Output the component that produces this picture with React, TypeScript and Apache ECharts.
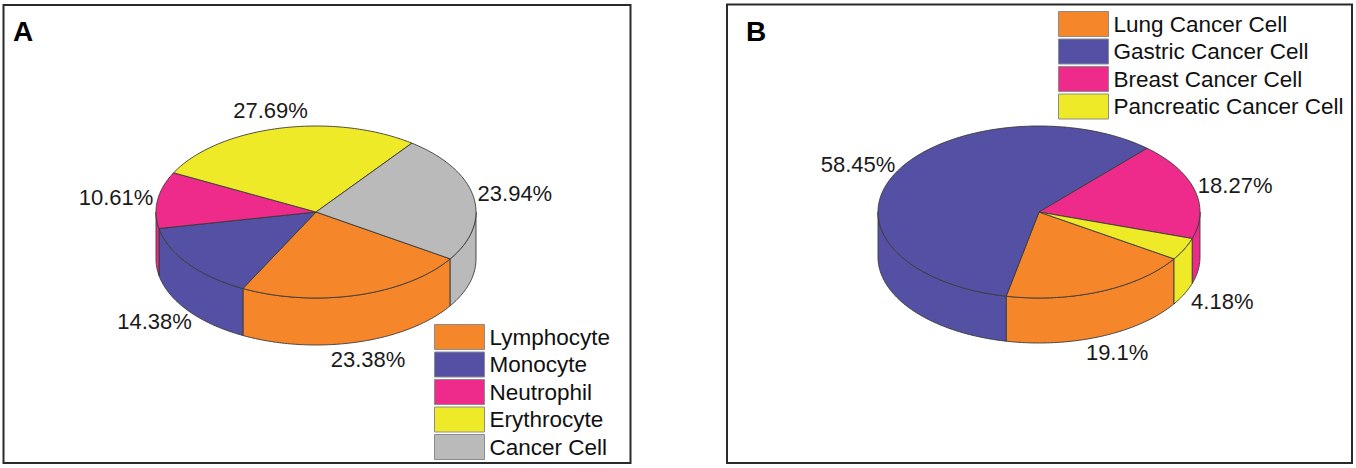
import React, { useEffect, useRef } from "react";
import * as echarts from "echarts";

// ---- data ----
const categoriesA = ["Lymphocyte", "Monocyte", "Neutrophil", "Erythrocyte", "Cancer Cell"];
const valuesA = [23.38, 14.38, 10.61, 27.69, 23.94];
const colorsA = ["#F6862A", "#5450A4", "#EE2A8B", "#EEEA28", "#B9BAB9"];

const categoriesB = ["Lung Cancer Cell", "Gastric Cancer Cell", "Breast Cancer Cell", "Pancreatic Cancer Cell"];
const valuesB = [19.1, 58.45, 18.27, 4.18];
const colorsB = ["#F6862A", "#5450A4", "#EE2A8B", "#EEEA28"];

const panelLetters = ["A", "B"];

// ---- geometry / style (not data) ----
const START_ANGLE = 33; // degrees, clockwise from 3 o'clock
const FONT = "Liberation Sans, Arial, Helvetica, sans-serif";
const EDGE = "#3a3a3a";

type Geo = { cx: number; cy: number; rx: number; ry: number; thick: number };
const geoA: Geo = { cx: 316, cy: 212, rx: 160, ry: 86, thick: 47 };
const geoB: Geo = { cx: 1039, cy: 212, rx: 161, ry: 86, thick: 45 };

function arcPts(g: Geo, a0: number, a1: number, dy: number) {
  const pts: number[][] = [];
  const n = Math.max(2, Math.ceil(Math.abs(a1 - a0)));
  for (let i = 0; i <= n; i++) {
    const a = ((a0 + ((a1 - a0) * i) / n) * Math.PI) / 180;
    pts.push([g.cx + g.rx * Math.cos(a), g.cy + g.ry * Math.sin(a) + dy]);
  }
  return pts;
}

function buildSeries(cats: string[], vals: number[], colors: string[], g: Geo) {
  const total = vals.reduce((s, v) => s + v, 0);
  let acc = START_ANGLE;
  const spans = vals.map((v) => {
    const a0 = acc;
    acc += (v / total) * 360;
    return [a0, acc];
  });
  return cats.map((name, i) => ({
    type: "custom",
    name,
    coordinateSystem: "none",
    silent: true,
    itemStyle: { color: colors[i] },
    data: [[vals[i]]],
    renderItem: (params: any, api: any) => {
      const [a0, a1] = spans[i];
      const fill = colors[i];
      const style = { fill, stroke: EDGE, lineWidth: 0.9, lineJoin: "round" };
      const children: any[] = [];
      for (const [v0, v1] of [
        [0, 180],
        [360, 540],
      ]) {
        const b0 = Math.max(a0, v0);
        const b1 = Math.min(a1, v1);
        if (b1 > b0) {
          const top = arcPts(g, b0, b1, 0);
          const bot = arcPts(g, b1, b0, g.thick);
          children.push({ type: "polygon", shape: { points: top.concat(bot) }, style, z2: 1 });
        }
      }
      children.push({
        type: "polygon",
        shape: { points: [[g.cx, g.cy]].concat(arcPts(g, a0, a1, 0)) },
        style,
        z2: 5,
      });
      const mid = (((a0 + a1) / 2) * Math.PI) / 180;
      const c = Math.cos(mid);
      const s = Math.sin(mid);
      const lx = g.cx + (g.rx + 42) * c;
      const ly = g.cy + (g.ry + 18) * s + (s > 0 ? g.thick : 0);
      children.push({
        type: "text",
        x: lx,
        y: ly,
        z2: 10,
        style: {
          text: vals[i] + "%",
          fontSize: 22,
          fontFamily: FONT,
          fill: "#1a1a1a",
          align: "center",
          verticalAlign: "middle",
        },
      });
      return { type: "group", children };
    },
  }));
}

export default function App() {
  const ref = useRef<HTMLDivElement>(null);
  useEffect(() => {
    document.body.style.margin = "0";
    const chart = echarts.init(ref.current!, undefined, { renderer: "svg" });
    const legendCommon = {
      orient: "vertical",
      icon: "rect",
      itemWidth: 50,
      itemHeight: 25,
      itemGap: 1.5,
      padding: 0,
      selectedMode: false,
      itemStyle: { borderColor: "#8c8c8c", borderWidth: 1 },
      textStyle: { fontSize: 22.5, fontFamily: FONT, color: "#111" },
    };
    chart.setOption({
      animation: false,
      backgroundColor: "#ffffff",
      legend: [
        { ...legendCommon, data: categoriesA, left: 434, top: 324 },
        { ...legendCommon, data: categoriesB, left: 1058, top: 11 },
      ],
      graphic: [
        {
          type: "rect",
          shape: { x: 3.5, y: 5, width: 627, height: 458 },
          style: { fill: "none", stroke: "#2a2a2a", lineWidth: 2 },
        },
        {
          type: "rect",
          shape: { x: 727, y: 4.5, width: 625, height: 458.5 },
          style: { fill: "none", stroke: "#2a2a2a", lineWidth: 2 },
        },
        {
          type: "text",
          left: 13,
          top: 17,
          style: { text: panelLetters[0], fontSize: 28, fontWeight: "bold", fontFamily: FONT, fill: "#000" },
        },
        {
          type: "text",
          left: 746,
          top: 17,
          style: { text: panelLetters[1], fontSize: 28, fontWeight: "bold", fontFamily: FONT, fill: "#000" },
        },
      ],
      series: [
        ...buildSeries(categoriesA, valuesA, colorsA, geoA),
        ...buildSeries(categoriesB, valuesB, colorsB, geoB),
      ],
    });
    return () => chart.dispose();
  }, []);
  return <div ref={ref} style={{ width: 1356, height: 468 }} />;
}
